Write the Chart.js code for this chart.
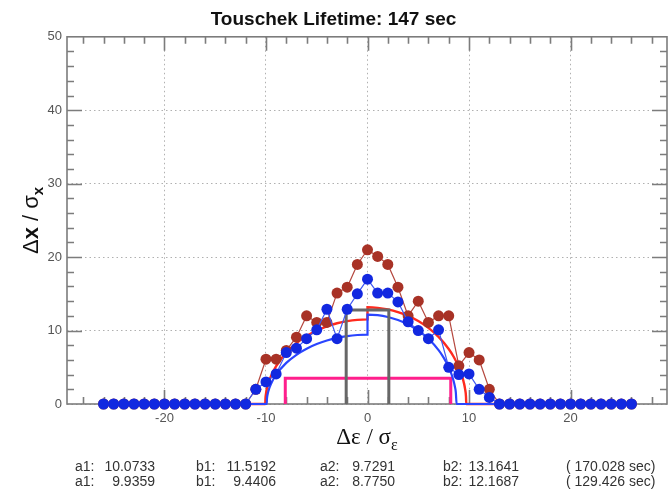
<!DOCTYPE html>
<html>
<head>
<meta charset="utf-8">
<script src="https://cdn.jsdelivr.net/npm/chart.js@4/dist/chart.umd.min.js"></script>
<style>
  html, body { margin: 0; padding: 0; background: #fff; }
  #wrap { width: 668px; height: 490px; position: relative; }
</style>
</head>
<body>
<div id="wrap"><canvas id="chart" width="668" height="490"></canvas></div>
<script>
// ---- chart text and axes ----
const titleText = 'Touschek Lifetime: 147 sec';
const xTickValues = [-20, -10, 0, 10, 20];
const yTickValues = [0, 10, 20, 30, 40, 50];

// ---- half-ellipse fit parameters (a = half width, b = height), left (1) / right (2) ----
const fitLabels = ['a1:', 'b1:', 'a2:', 'b2:'];
const fitRed  = [10.0733, 11.5192, 9.7291, 13.1641];
const fitBlue = [9.9359, 9.4406, 8.7750, 12.1687];
const fitLifetimes = [170.028, 129.426];

// ---- aperture scan: energy offset vs. largest stable horizontal offset ----
const scanX = [-26, -25, -24, -23, -22, -21, -20, -19, -18, -17, -16, -15, -14, -13, -12,
               -11, -10, -9, -8, -7, -6, -5, -4, -3, -2, -1, 0, 1, 2, 3, 4, 5, 6, 7, 8, 9, 10, 11, 12,
               13, 14, 15, 16, 17, 18, 19, 20, 21, 22, 23, 24, 25, 26];
const scanRed = [0, 0, 0, 0, 0, 0, 0, 0, 0, 0, 0, 0, 0, 0, 0,
                 2.0, 6.1, 6.1, 7.3, 9.1, 12.0, 11.1, 11.1, 15.1, 15.9, 19.0, 21.0, 20.1, 19.0, 15.9,
                 12.0, 14.0, 11.1, 12.0, 12.0, 5.2, 7.0, 6.0, 2.0,
                 0, 0, 0, 0, 0, 0, 0, 0, 0, 0, 0, 0, 0, 0];
const scanBlue = [0, 0, 0, 0, 0, 0, 0, 0, 0, 0, 0, 0, 0, 0, 0,
                  2.0, 3.0, 4.1, 7.0, 7.6, 8.9, 10.1, 12.9, 8.9, 12.9, 15.0, 17.0, 15.1, 15.1, 13.9,
                  11.2, 10.0, 8.9, 10.1, 5.0, 4.0, 4.1, 2.0, 0.9,
                  0, 0, 0, 0, 0, 0, 0, 0, 0, 0, 0, 0, 0, 0];

// ---- fitted envelopes, sampled along each half-ellipse ----
const redCurveX = [-26, -fitRed[0], -10.05, -10, -9.95, -9.8, -9.5, -9, -8, -7, -6, -5, -4, -3, -2, -1, 0,
                   0, 1, 2, 3, 4, 5, 6, 7, 8, 8.5, 9, 9.3, 9.5, 9.6, 9.7, fitRed[2], 26];
const redCurveY = [0, 0, 0.783, 1.388, 1.797, 2.665, 3.831, 5.174, 7.000, 8.283, 9.253, 10.000, 10.572,
                   10.996, 11.290, 11.462, fitRed[1],
                   fitRed[3], 13.094, 12.883, 12.523, 12.000, 11.293, 10.363, 9.142, 7.492, 6.405, 5.000,
                   3.866, 2.840, 2.137, 1.017, 0, 0];
const blueCurveX = [-26, -fitBlue[0], -9.9, -9.8, -9.7, -9.5, -9, -8, -7, -6, -5, -4, -3, -2, -1, 0,
                    0, 1, 2, 3, 4, 5, 6, 7, 7.5, 8, 8.3, 8.5, 8.6, 8.7, fitBlue[2], 26];
const blueCurveY = [0, 0, 0.802, 1.556, 2.045, 2.766, 4.000, 5.599, 6.700, 7.525, 8.158, 8.642, 9.000,
                    9.247, 9.393, fitBlue[1],
                    fitBlue[3], 12.090, 11.848, 11.436, 10.831, 10.000, 8.880, 7.338, 6.317, 5.000, 3.949,
                    3.023, 2.418, 1.588, 0, 0];

// ---- outlines of the momentum window and the physical gate ----
const windowX = [-2.1, -2.1, 2.1, 2.1];
const windowY = [0, 12.8, 12.8, 0];
const gateX = [-8.1, -8.1, 8.2, 8.2];
const gateY = [0, 3.5, 3.5, 0];

const toPoints = (xs, ys) => xs.map((x, i) => ({ x: x, y: ys[i] }));

const SANS = '"Liberation Sans", Arial, Helvetica, sans-serif';
const SERIF = '"Liberation Serif", "Times New Roman", serif';
Chart.defaults.font.family = SANS;

// draws a run of text pieces (with optional baseline shift) centred on cx
function drawRich(ctx, parts, cx, cy) {
  let total = 0;
  parts.forEach(p => { ctx.font = p.font; p.w = ctx.measureText(p.t).width; total += p.w; });
  let x = cx - total / 2;
  ctx.textAlign = 'left';
  ctx.textBaseline = 'alphabetic';
  parts.forEach(p => { ctx.font = p.font; ctx.fillText(p.t, x, cy + (p.dy || 0)); x += p.w; });
}

const frameAndText = {
  id: 'frameAndText',
  beforeDatasetsDraw(chart) {
    const { ctx, chartArea: a, scales: { x, y } } = chart;
    ctx.save();
    ctx.strokeStyle = '#7c7c7c';
    ctx.lineWidth = 1.6;
    ctx.strokeRect(a.left, a.top, a.right - a.left, a.bottom - a.top);
    ctx.beginPath();
    for (let v = -28; v <= 28; v += 2) {
      const px = Math.round(x.getPixelForValue(v)) + 0.5;
      const len = v % 10 === 0 ? 14 : 7;
      ctx.moveTo(px, a.bottom); ctx.lineTo(px, a.bottom - len);
      ctx.moveTo(px, a.top); ctx.lineTo(px, a.top + len);
    }
    for (let v = 2; v <= 48; v += 2) {
      const py = Math.round(y.getPixelForValue(v)) + 0.5;
      const len = v % 10 === 0 ? 15 : 7;
      ctx.moveTo(a.left, py); ctx.lineTo(a.left + len, py);
      ctx.moveTo(a.right, py); ctx.lineTo(a.right - len, py);
    }
    ctx.stroke();
    ctx.restore();
  },
  afterDraw(chart) {
    const { ctx, chartArea: a } = chart;
    ctx.save();
    ctx.fillStyle = '#111';
    // horizontal axis title
    drawRich(ctx, [
      { t: 'Δε / σ', font: '23px ' + SERIF },
      { t: 'ε', font: '16px ' + SERIF, dy: 6 }
    ], (a.left + a.right) / 2, 444);
    // vertical axis title
    ctx.save();
    ctx.translate(38, (a.top + a.bottom) / 2);
    ctx.rotate(-Math.PI / 2);
    drawRich(ctx, [
      { t: 'Δ', font: '22px ' + SANS },
      { t: 'x', font: 'bold 22px ' + SANS },
      { t: ' / σ', font: '22px ' + SANS },
      { t: 'x', font: 'bold 15px ' + SANS, dy: 5 }
    ], 0, 0);
    ctx.restore();
    // fit parameter rows
    const rows = [fitRed, fitBlue];
    const labelX = [75, 196, 320, 443];
    const valueRight = [155, 276, 395, 519];
    ctx.fillStyle = '#333';
    ctx.font = '14px ' + SANS;
    ctx.textBaseline = 'alphabetic';
    rows.forEach((vals, r) => {
      const by = 471 + r * 15;
      vals.forEach((v, i) => {
        ctx.textAlign = 'left';
        ctx.fillText(fitLabels[i], labelX[i], by);
        ctx.textAlign = 'right';
        ctx.fillText(v.toFixed(4), valueRight[i], by);
      });
      ctx.textAlign = 'left';
      ctx.fillText('( ' + fitLifetimes[r].toFixed(3) + ' sec)', 566, by);
    });
    ctx.restore();
  }
};

const setTicks = values => scale => { scale.ticks = values.map(v => ({ value: v })); };

new Chart(document.getElementById('chart'), {
  type: 'scatter',
  data: {
    datasets: [
      {
        label: 'scan 2', data: toPoints(scanX, scanBlue), showLine: true, clip: false,
        borderColor: '#4058f2', borderWidth: 1.2,
        pointRadius: 5.5, pointBackgroundColor: '#1228e0', pointBorderColor: '#1228e0', pointBorderWidth: 0
      },
      {
        label: 'scan 1', data: toPoints(scanX, scanRed), showLine: true, clip: false,
        borderColor: '#b5483f', borderWidth: 1.2,
        pointRadius: 5.5, pointBackgroundColor: '#a83226', pointBorderColor: '#a83226', pointBorderWidth: 0
      },
      {
        label: 'window', data: toPoints(windowX, windowY), showLine: true, clip: false,
        borderColor: '#676767', borderWidth: 3, pointRadius: 0, borderJoinStyle: 'miter'
      },
      {
        label: 'fit 2', data: toPoints(blueCurveX, blueCurveY), showLine: true, clip: false,
        borderColor: '#2a45ff', borderWidth: 2.2, pointRadius: 0, cubicInterpolationMode: 'monotone'
      },
      {
        label: 'fit 1', data: toPoints(redCurveX, redCurveY), showLine: true, clip: false,
        borderColor: '#ff2a1e', borderWidth: 2.4, pointRadius: 0, cubicInterpolationMode: 'monotone'
      },
      {
        label: 'gate', data: toPoints(gateX, gateY), showLine: true, clip: false,
        borderColor: '#ff1f8c', borderWidth: 3, pointRadius: 0, borderJoinStyle: 'miter'
      }
    ]
  },
  options: {
    responsive: false,
    animation: false,
    devicePixelRatio: 1,
    layout: { autoPadding: false, padding: { left: 0, right: 1, top: 0, bottom: 0 } },
    plugins: {
      legend: { display: false },
      tooltip: { enabled: false },
      title: {
        display: true, text: titleText, color: '#111',
        font: { family: SANS, size: 19, weight: 'bold' },
        padding: { top: 8, bottom: 6 }
      }
    },
    scales: {
      x: {
        type: 'linear', min: -29.6, max: 29.5,
        afterBuildTicks: setTicks(xTickValues),
        afterFit: s => { s.height = 86; },
        ticks: { color: '#555', font: { size: 13 }, padding: 7 },
        grid: { color: '#b0b0b0', lineWidth: 1, drawTicks: false },
        border: { display: false, dash: [1.5, 3] }
      },
      y: {
        type: 'linear', min: 0, max: 50,
        afterBuildTicks: setTicks(yTickValues),
        afterFit: s => { s.width = 67; },
        ticks: { color: '#555', font: { size: 13 }, padding: 5 },
        grid: { color: '#b0b0b0', lineWidth: 1, drawTicks: false },
        border: { display: false, dash: [1.5, 3] }
      }
    }
  },
  plugins: [frameAndText]
});
</script>
</body>
</html>
